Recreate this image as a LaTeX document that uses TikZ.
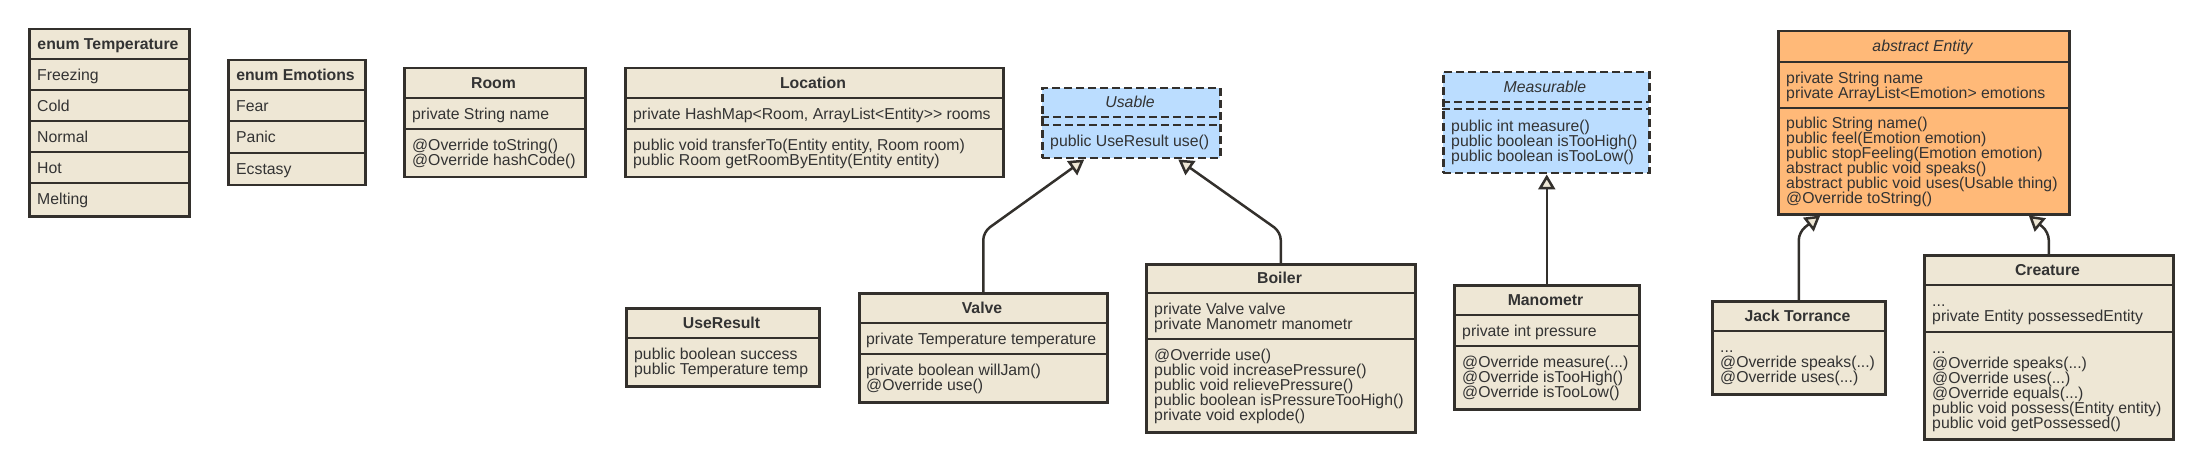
\documentclass[tikz,border=0pt]{standalone}
\usepackage{fontspec}
\setmainfont{Liberation Sans}
\usetikzlibrary{arrows.meta}
\definecolor{beige}{HTML}{EEE7D5}
\definecolor{edge}{HTML}{33302C}
\definecolor{ink}{HTML}{333333}
\definecolor{ublue}{HTML}{BBDDFF}
\definecolor{uorange}{HTML}{FFB978}
\newcommand\strA{\rule{0pt}{15.3pt}}
\newcommand\strZ{\rule[-4pt]{0pt}{4pt}}
\tikzset{
 box/.style={draw=edge, line width=2.5pt, fill=beige, rectangle, inner sep=0pt, anchor=north west},
 dbox/.style={box, fill=ublue, dash pattern=on 8pt off 4pt},
 sep/.style={draw=edge, line width=2.5pt},
 dsep/.style={sep, dash pattern=on 8pt off 4pt},
 txt/.style={font=\fontsize{15.8}{15}\selectfont, text=ink, inner sep=0pt, align=left, anchor=west},
 hdr/.style={txt, anchor=center, align=center, font=\fontsize{15.8}{15}\selectfont\bfseries},
 ihdr/.style={txt, anchor=center, align=center, font=\fontsize{15.8}{15}\selectfont\itshape},
 inh/.style={draw=edge, line width=2.5pt, rounded corners=8pt, -{Triangle[length=15pt 0 0,width=17pt 0 0,fill=beige,sharp]}},
}
\begin{document}
\begin{tikzpicture}[x=1pt,y=-1pt]
\useasboundingbox (0,0) rectangle (2199,465);

% enum Temperature
\node[box, minimum width=160pt, minimum height=187pt] (temp) at (28,28) {};
\foreach \yy in {59,90,121,152,183} \draw[sep] (temp.west |- 0,\yy) -- (temp.east |- 0,\yy);
\node[hdr] (tempH) at (108,43.5) {\strA enum Temperature\strZ};
\node[txt] (tempA) at (37,74.5) {\strA Freezing\strZ};
\node[txt] (tempB) at (37,105.5) {\strA Cold\strZ};
\node[txt] (tempC) at (37,136.5) {\strA Normal\strZ};
\node[txt] (tempD) at (37,167.5) {\strA Hot\strZ};
\node[txt] (tempE) at (37,199) {\strA Melting\strZ};

% enum Emotions
\node[box, minimum width=137pt, minimum height=125pt] (emo) at (227,59) {};
\foreach \yy in {90,121,153} \draw[sep] (emo.west |- 0,\yy) -- (emo.east |- 0,\yy);
\node[hdr] (emoH) at (295.5,74.5) {\strA enum Emotions\strZ};
\node[txt] (emoA) at (236,105.5) {\strA Fear\strZ};
\node[txt] (emoB) at (236,137) {\strA Panic\strZ};
\node[txt] (emoC) at (236,168.5) {\strA Ecstasy\strZ};

% Room
\node[box, minimum width=181pt, minimum height=109pt] (room) at (403,67) {};
\foreach \yy in {98,129} \draw[sep] (room.west |- 0,\yy) -- (room.east |- 0,\yy);
\node[hdr] (roomH) at (493.5,82.5) {\strA Room\strZ};
\node[txt] (roomA) at (412,113.5) {\strA private String name\strZ};
\node[txt] (roomM) at (412,152.5) {\strA @Override toString()\\@Override hashCode()\strZ};

% Location
\node[box, minimum width=378pt, minimum height=109pt] (loc) at (624,67) {};
\foreach \yy in {98,129} \draw[sep] (loc.west |- 0,\yy) -- (loc.east |- 0,\yy);
\node[hdr] (locH) at (813,82.5) {\strA Location\strZ};
\node[txt] (locA) at (633,113.5) {\strA private HashMap<Room, ArrayList<Entity>{}> rooms\strZ};
\node[txt] (locM) at (633,152.5) {\strA public void transferTo(Entity entity, Room room)\\public Room getRoomByEntity(Entity entity)\strZ};

% Usable
\node[dbox, minimum width=178pt, minimum height=70pt] (usable) at (1041,87) {};
\foreach \yy in {117,125} \draw[dsep] (usable.west |- 0,\yy) -- (usable.east |- 0,\yy);
\node[ihdr] (usableH) at (1130,102) {\strA Usable\strZ};
\node[txt] (usableM) at (1050,141) {\strA public UseResult use()\strZ};

% Measurable
\node[dbox, minimum width=206pt, minimum height=101pt] (measur) at (1442,71) {};
\foreach \yy in {102,109} \draw[dsep] (measur.west |- 0,\yy) -- (measur.east |- 0,\yy);
\node[ihdr] (measurH) at (1545,86.5) {\strA Measurable\strZ};
\node[txt] (measurM) at (1451,140.5) {\strA public int measure()\\public boolean isTooHigh()\\public boolean isTooLow()\strZ};

% abstract Entity
\node[box, fill=uorange, minimum width=291pt, minimum height=183pt] (entity) at (1777,30) {};
\foreach \yy in {62,108} \draw[sep] (entity.west |- 0,\yy) -- (entity.east |- 0,\yy);
\node[ihdr] (entityH) at (1922.5,46) {\strA abstract Entity\strZ};
\node[txt] (entityA) at (1786,85) {\strA private String name\\private ArrayList<Emotion> emotions\strZ};
\node[txt] (entityM) at (1786,160.5) {\strA public String name()\\public feel(Emotion emotion)\\public stopFeeling(Emotion emotion)\\abstract public void speaks()\\abstract public void uses(Usable thing)\\@Override toString()\strZ};

% UseResult
\node[box, minimum width=193pt, minimum height=78pt] (useres) at (625,307) {};
\draw[sep] (useres.west |- 0,338) -- (useres.east |- 0,338);
\node[hdr] (useresH) at (721.5,322.5) {\strA UseResult\strZ};
\node[txt] (useresA) at (634,361.5) {\strA public boolean success\\public Temperature temp\strZ};

% Valve
\node[box, minimum width=248pt, minimum height=109pt] (valve) at (858,292) {};
\foreach \yy in {323,354} \draw[sep] (valve.west |- 0,\yy) -- (valve.east |- 0,\yy);
\node[hdr] (valveH) at (982,307.5) {\strA Valve\strZ};
\node[txt] (valveA) at (866,338.5) {\strA private Temperature temperature\strZ};
\node[txt] (valveM) at (866,377.5) {\strA private boolean willJam()\\@Override use()\strZ};

% Boiler
\node[box, minimum width=269pt, minimum height=168pt] (boiler) at (1145,263) {};
\foreach \yy in {293,339} \draw[sep] (boiler.west |- 0,\yy) -- (boiler.east |- 0,\yy);
\node[hdr] (boilerH) at (1279.5,278) {\strA Boiler\strZ};
\node[txt] (boilerA) at (1154,316) {\strA private Valve valve\\private Manometr manometr\strZ};
\node[txt] (boilerM) at (1154,385) {\strA @Override use()\\public void increasePressure()\\public void relievePressure()\\public boolean isPressureTooHigh()\\private void explode()\strZ};

% Manometr
\node[box, minimum width=185pt, minimum height=124pt] (mano) at (1453,284) {};
\foreach \yy in {315,346} \draw[sep] (mano.west |- 0,\yy) -- (mano.east |- 0,\yy);
\node[hdr] (manoH) at (1545.5,299.5) {\strA Manometr\strZ};
\node[txt] (manoA) at (1462,330.5) {\strA private int pressure\strZ};
\node[txt] (manoM) at (1462,377) {\strA @Override measure(...)\\@Override isTooHigh()\\@Override isTooLow()\strZ};

% Jack Torrance
\node[box, minimum width=173pt, minimum height=93pt] (jack) at (1711,300) {};
\draw[sep] (jack.west |- 0,331) -- (jack.east |- 0,331);
\node[hdr] (jackH) at (1797.5,315.5) {\strA Jack Torrance\strZ};
\node[txt] (jackM) at (1720,362) {\strA ...\\@Override speaks(...)\\@Override uses(...)\strZ};

% Creature
\node[box, minimum width=249pt, minimum height=184pt] (creat) at (1923,254) {};
\foreach \yy in {285,332} \draw[sep] (creat.west |- 0,\yy) -- (creat.east |- 0,\yy);
\node[hdr] (creatH) at (2047.5,269.5) {\strA Creature\strZ};
\node[txt] (creatA) at (1932,308.5) {\strA ...\\private Entity possessedEntity\strZ};
\node[txt] (creatM) at (1932,385) {\strA ...\\@Override speaks(...)\\@Override uses(...)\\@Override equals(...)\\public void possess(Entity entity)\\public void getPossessed()\strZ};

% inheritance connectors
\draw[inh] (valve.north) -- ++(0,-60) -- ([xshift=-47pt]usable.south);
\draw[inh] (boiler.north) -- ++(0,-31) -- ([xshift=47pt]usable.south);
\draw[inh] (mano.north) -- (mano.north |- measur.south);
\draw[inh] (jack.north) -- ++(0,-68) -- ([xshift=-103.5pt]entity.south);
\draw[inh] (creat.north) -- ++(0,-22) -- ([xshift=105pt]entity.south);
\end{tikzpicture}
\end{document}
